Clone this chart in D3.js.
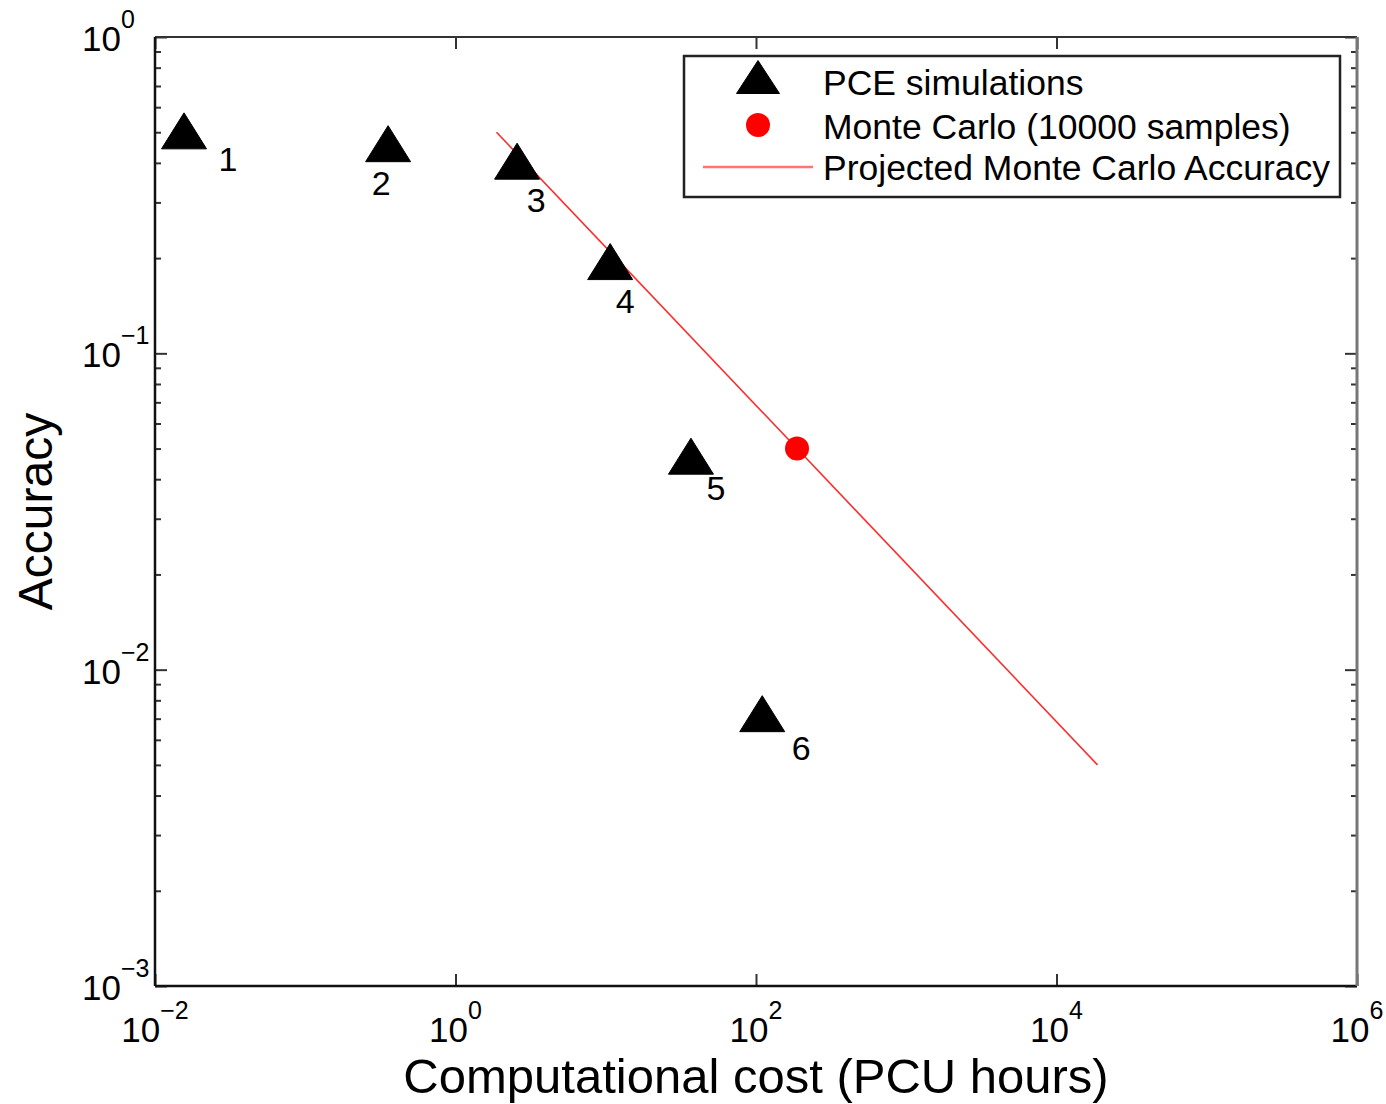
<!DOCTYPE html>
<html>
<head>
<meta charset="utf-8">
<script src="https://cdn.jsdelivr.net/npm/d3@7/dist/d3.min.js"></script>
<style>
  html, body { margin: 0; padding: 0; background: #fff; }
  svg { display: block; font-family: "Liberation Sans", Arial, Helvetica, sans-serif; }
</style>
</head>
<body>
<svg id="chart" width="1386" height="1104"></svg>
<script>
// PCE runs: computational cost (PCU hours) vs accuracy
const pceLabels = ["1", "2", "3", "4", "5", "6"];
const pceCost = [0.0156, 0.356, 2.57, 10.7, 36.9, 110];
const pceAccuracy = [0.505, 0.46, 0.405, 0.195, 0.0473, 0.00726];

// Monte Carlo reference run (10000 samples)
const mcCost = [187.5];
const mcAccuracy = [0.05];

// Projected Monte Carlo accuracy (1/sqrt(N) slope)
const projCost = [1.875, 187.5, 18750];
const projAccuracy = [0.5, 0.05, 0.005];

// Axis ticks
const xTickExps = [-2, 0, 2, 4, 6];
const yTickExps = [-3, -2, -1, 0];

const legendLabels = ["PCE simulations", "Monte Carlo (10000 samples)", "Projected Monte Carlo Accuracy"];
const xTitle = "Computational cost (PCU hours)";
const yTitle = "Accuracy";

// Label placement around each triangle (pixels)
const labelOffsets = [[44, 28], [-7, 39], [19, 39], [15, 39], [25, 32], [39, 34]];

const svg = d3.select("#chart");
const L = 155, R = 1357, T = 37, B = 986;

const x = d3.scaleLog().domain([1e-2, 1e6]).range([L, R]);
const y = d3.scaleLog().domain([1e-3, 1e0]).range([B, T]);

const xMajor = xTickExps.map(e => Math.pow(10, e));
const yMajor = yTickExps.map(e => Math.pow(10, e));
const yMinor = [];
for (let e = -3; e < 0; e++) for (let m = 2; m <= 9; m++) yMinor.push(m * Math.pow(10, e));

function styleAxis(g) {
  g.select(".domain").remove();
  g.selectAll(".tick line").attr("stroke", "#333").attr("stroke-width", 2);
  g.selectAll(".tick text").remove();
}

// Inward ticks on all four sides
svg.append("g").attr("transform", `translate(0,${B})`)
  .call(d3.axisBottom(x).tickValues(xMajor).tickSize(-12)).call(styleAxis);
svg.append("g").attr("transform", `translate(0,${T})`)
  .call(d3.axisTop(x).tickValues(xMajor).tickSize(-12)).call(styleAxis);
svg.append("g").attr("transform", `translate(${L},0)`)
  .call(d3.axisLeft(y).tickValues(yMajor).tickSize(-12)).call(styleAxis);
svg.append("g").attr("transform", `translate(${L},0)`)
  .call(d3.axisLeft(y).tickValues(yMinor).tickSize(-6)).call(styleAxis);
svg.append("g").attr("transform", `translate(${R},0)`)
  .call(d3.axisRight(y).tickValues(yMajor).tickSize(-12)).call(styleAxis);
svg.append("g").attr("transform", `translate(${R},0)`)
  .call(d3.axisRight(y).tickValues(yMinor).tickSize(-6)).call(styleAxis);

// Frame
svg.append("line").attr("x1", L).attr("x2", R).attr("y1", T).attr("y2", T).attr("stroke", "#333").attr("stroke-width", 2);
svg.append("line").attr("x1", L).attr("x2", R).attr("y1", B).attr("y2", B).attr("stroke", "#111").attr("stroke-width", 2.5);
svg.append("line").attr("x1", L).attr("x2", L).attr("y1", T).attr("y2", B).attr("stroke", "#111").attr("stroke-width", 2.5);
svg.append("line").attr("x1", R).attr("x2", R).attr("y1", T).attr("y2", B).attr("stroke", "#777").attr("stroke-width", 3);

// Tick labels as 10^n
function powerLabel(sel) {
  sel.each(function(d) {
    const t = d3.select(this);
    t.append("tspan").attr("font-size", 35).text("10");
    t.append("tspan").attr("font-size", 25).attr("dy", -23).text(d < 0 ? "\u2212" + (-d) : String(d));
  });
}

svg.append("g").selectAll("text").data(xTickExps).join("text")
  .attr("x", d => x(Math.pow(10, d)))
  .attr("y", B + 56)
  .attr("text-anchor", "middle")
  .attr("fill", "#000")
  .call(powerLabel);

svg.append("g").selectAll("text").data(yTickExps).join("text")
  .attr("x", 82)
  .attr("y", d => y(Math.pow(10, d)) + 14)
  .attr("text-anchor", "start")
  .attr("fill", "#000")
  .call(powerLabel);

// Axis titles
svg.append("text")
  .attr("x", (L + R) / 2).attr("y", 1093)
  .attr("text-anchor", "middle").attr("font-size", 49).attr("fill", "#000")
  .text(xTitle);
svg.append("text")
  .attr("transform", `translate(52,${(T + B) / 2}) rotate(-90)`)
  .attr("text-anchor", "middle").attr("font-size", 48).attr("fill", "#000")
  .text(yTitle);

// Projected Monte Carlo line
const line = d3.line().x(d => x(d[0])).y(d => y(d[1]));
svg.append("path")
  .datum(d3.zip(projCost, projAccuracy))
  .attr("d", line)
  .attr("fill", "none")
  .attr("stroke", "#ff2a2a")
  .attr("stroke-width", 1.6);

// Triangle marker
const TW = 45, TH = 36;
const tri = (w, h) => `M0,${-h / 2}L${w / 2},${h / 2}L${-w / 2},${h / 2}Z`;

const pts = d3.zip(pceCost, pceAccuracy, pceLabels);
svg.append("g").selectAll("path").data(pts).join("path")
  .attr("transform", d => `translate(${x(d[0])},${y(d[1])})`)
  .attr("d", tri(TW, TH))
  .attr("fill", "#000")
  .attr("stroke", "#000")
  .attr("stroke-width", 1);

svg.append("g").selectAll("text").data(pts).join("text")
  .attr("x", (d, i) => x(d[0]) + labelOffsets[i][0])
  .attr("y", (d, i) => y(d[1]) + labelOffsets[i][1] + 12)
  .attr("text-anchor", "middle")
  .attr("font-size", 34)
  .attr("fill", "#000")
  .text(d => d[2]);

// Monte Carlo point
svg.append("g").selectAll("circle").data(d3.zip(mcCost, mcAccuracy)).join("circle")
  .attr("cx", d => x(d[0])).attr("cy", d => y(d[1]))
  .attr("r", 12).attr("fill", "#ff0000");

// Legend
const lg = svg.append("g");
lg.append("rect").attr("x", 684).attr("y", 56).attr("width", 656).attr("height", 141)
  .attr("fill", "#fff").attr("stroke", "#222").attr("stroke-width", 2.5);
lg.append("path").attr("transform", "translate(758,77)").attr("d", tri(43, 33))
  .attr("fill", "#000").attr("stroke", "#000").attr("stroke-width", 1);
lg.append("circle").attr("cx", 758).attr("cy", 125).attr("r", 12).attr("fill", "#ff0000");
lg.append("line").attr("x1", 703).attr("x2", 813).attr("y1", 167).attr("y2", 167)
  .attr("stroke", "#ff7575").attr("stroke-width", 2.5);
lg.selectAll("text.lbl").data(legendLabels).join("text")
  .attr("class", "lbl")
  .attr("x", 823)
  .attr("y", (d, i) => [95, 139, 180][i])
  .attr("font-size", 35.5)
  .attr("fill", "#000")
  .text(d => d);
</script>
</body>
</html>
